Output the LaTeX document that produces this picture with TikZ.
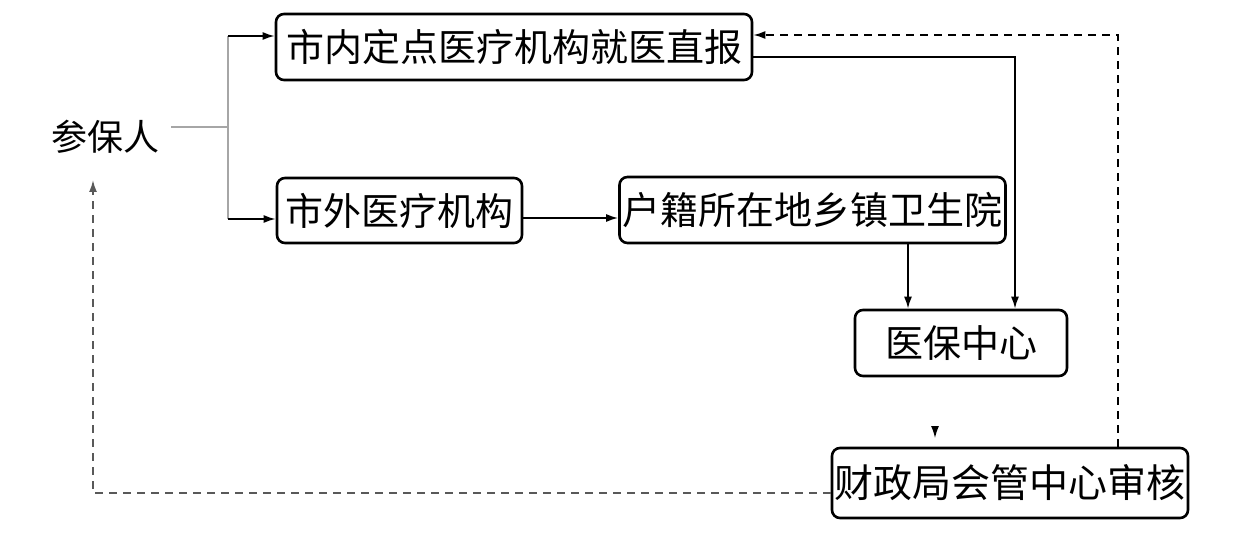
\documentclass[tikz,border=0pt]{standalone}
\usepackage{fontspec}
\setmainfont{Noto Sans CJK SC}
\usetikzlibrary{arrows.meta}
\tikzset{
  box/.style={draw=black, line width=1.3pt, rounded corners=4pt, inner sep=0pt, align=center, font=\fontsize{19pt}{21pt}\selectfont},
  arr/.style={line width=0.9pt, -{Latex[length=6pt,width=4pt]}},
  grayline/.style={line width=1pt, draw=gray!70},
  darr/.style={line width=0.9pt, dashed, dash pattern=on 4pt off 3pt, -{Latex[length=6pt,width=4pt]}},
}
\begin{document}
\begin{tikzpicture}[x=0.5pt,y=-0.5pt]
\useasboundingbox (0,0) rectangle (1242,534);
\node[box, minimum width=238pt, minimum height=33pt] (b1) at (514,47) {市内定点医疗机构就医直报};
\node[box, minimum width=122.5pt, minimum height=32.5pt] (b2) at (399.5,210.5) {市外医疗机构};
\node[box, minimum width=193pt, minimum height=33pt] (b3) at (812.5,210) {户籍所在地乡镇卫生院};
\node[box, minimum width=106pt, minimum height=33pt] (b4) at (961,343) {医保中心};
\node[box, minimum width=178pt, minimum height=35pt, font=\fontsize{19.5pt}{21pt}\selectfont] (b5) at (1010,483) {财政局会管中心审核};
\node[inner sep=0pt, font=\fontsize{18pt}{20pt}\selectfont] (cb) at (105,137) {参保人};
% trunk from 参保人
\coordinate (j) at (228,127);
\coordinate (t1) at (228,36);
\coordinate (t2) at (228,219);
\draw[grayline] ([xshift=6pt,yshift=5pt]cb.east) -- (j);
\draw[grayline] (t1) -- (t2);
\draw[arr] (t1) -- (b1.west |- t1);
\draw[arr] (t2) -- (b2.west |- t2);
% box1 -> 医保中心
\coordinate (c1) at (1015,57);
\draw[arr] (b1.east |- c1) -- (c1) -- (c1 |- b4.north);
% box2 -> box3
\coordinate (c2) at (500,218);
\draw[arr] (b2.east |- c2) -- (b3.west |- c2);
% box3 -> 医保中心
\coordinate (c3) at (908,300);
\draw[arr] (b3.south -| c3) -- (c3 |- b4.north);
% dashed feedback to box1
\coordinate (d1) at (1118,35);
\draw[darr] (b5.north -| d1) -- (d1) -- (b1.east |- d1);
% dashed feedback to 参保人
\coordinate (d2) at (93,493);
\coordinate (d3) at (93,180);
\draw[darr, draw=black!65] (b5.west |- d2) -- (d2) -- (d3);
% lone arrowhead above 财政局
\coordinate (s1) at (935,427);
\coordinate (s2) at (935,438);
\draw[arr, line width=0.6pt] (s1) -- (s2);
\end{tikzpicture}
\end{document}
